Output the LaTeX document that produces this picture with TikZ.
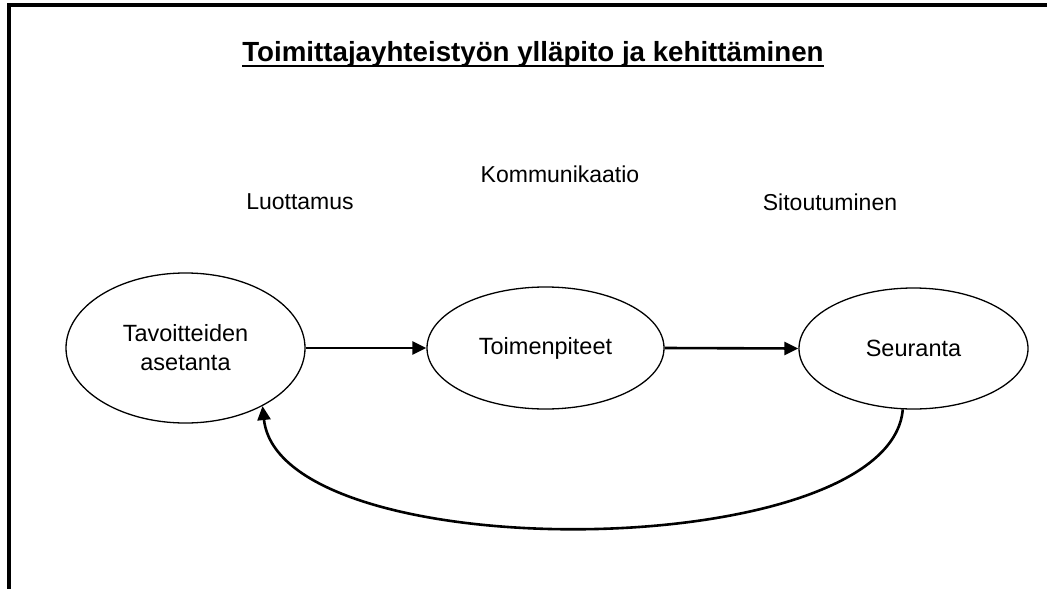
\documentclass[tikz,border=0pt]{standalone}
\usepackage{fontspec}
\setmainfont{Liberation Sans}
\usetikzlibrary{shapes.geometric,arrows.meta,calc}
\begin{document}
\begin{tikzpicture}[x=1pt,y=-1pt,
  oval/.style={ellipse,draw,line width=1.3pt,inner sep=0pt,align=center,
    font=\fontsize{23.5}{29}\selectfont},
  lbl/.style={inner sep=0pt,font=\fontsize{23}{28}\selectfont},
  arr/.style={line width=2.6pt,-{Triangle[length=14pt,width=13pt]}}]
\useasboundingbox (0,0) rectangle (1047,589);
% frame
\draw[line width=4pt] (9,589) -- (9,5) -- (1047,5);
% title
\node[inner sep=0pt,anchor=base,font=\fontsize{27.7}{32}\selectfont\bfseries] (title) at (533,61)
  {Toimittajayhteistyön ylläpito ja kehittäminen};
\draw[line width=2pt] ($(title.base west)+(0,5)$) -- ($(title.base east)+(0,5)$);
% labels
\node[lbl] (l1) at (300,202) {Luottamus};
\node[lbl] (l2) at (560,174) {Kommunikaatio};
\node[lbl] (l3) at (830,202) {Sitoutuminen};
% ellipses
\node[oval,minimum width=239pt,minimum height=150pt] (e1) at (185.5,348) {Tavoitteiden\\asetanta};
\node[oval,minimum width=237pt,minimum height=122pt] (e2) at (545.5,348) {Toimenpiteet};
\node[oval,minimum width=229pt,minimum height=121pt] (e3) at (913.5,348.5) {Seuranta};
% connectors
\draw[arr] (e1.east) -- (e2.west);
\draw[arr] (e2.east) -- (e3.west);
\draw[arr] (e3.260) .. controls (890,565) and (280,570) .. (e1.323);
\end{tikzpicture}
\end{document}
